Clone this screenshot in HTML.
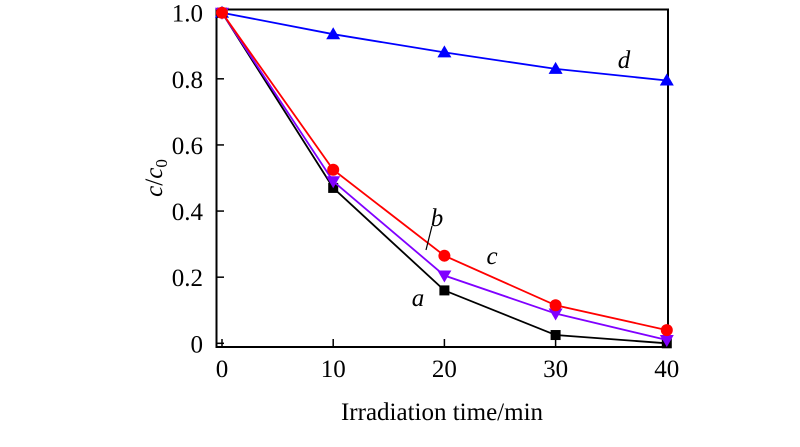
<!DOCTYPE html>
<html><head><meta charset="utf-8"><style>
body{margin:0;background:#fff}
svg text{font-family:"Liberation Serif",serif;fill:#000}
</style></head><body>
<svg id="chart" width="800" height="442" viewBox="0 0 800 442"></svg>
<script>
const categories=[0,10,20,30,40];
const seriesA=[1,0.47,0.16,0.025,0];
const seriesB=[1,0.49,0.205,0.09,0.01];
const seriesC=[1,0.525,0.265,0.115,0.04];
const seriesD=[1,0.935,0.88,0.83,0.795];
const xTicks=[0,10,20,30,40];
const yTicks=[0,0.2,0.4,0.6,0.8,1.0];
const yTickLabels=["0","0.2","0.4","0.6","0.8","1.0"];
const NS="http://www.w3.org/2000/svg";
const svg=document.getElementById('chart');
const X=v=>222+v*11.12;
const Y=v=>343.3-v*330.6;
function mk(t,a,p){const e=document.createElementNS(NS,t);for(const k in a)e.setAttribute(k,a[k]);(p||svg).appendChild(e);return e;}
const frame=mk('rect',{x:216.5,y:9.5,width:451.5,height:337.5,fill:'none',stroke:'#000','stroke-width':2});


xTicks.forEach(v=>{
 const t=mk('line',{x1:X(v),x2:X(v),y1:347,y2:339,stroke:'#000','stroke-width':1.5});
 
 
 const l=mk('text',{x:X(v),y:377,'font-size':25,'text-anchor':'middle'});l.textContent=v;
 
 
});
yTicks.forEach((v,i)=>{
 const t=mk('line',{x1:216.5,x2:224,y1:Y(v),y2:Y(v),stroke:'#000','stroke-width':1.5});
 
 
 const l=mk('text',{x:203,y:Y(v)+9,'font-size':25,'text-anchor':'end'});l.textContent=yTickLabels[i];
 
 
});
const xt=mk('text',{x:442,y:420,'font-size':25,'text-anchor':'middle'});xt.textContent='Irradiation time/min';


const yt=mk('text',{x:0,y:0,'font-size':25,'text-anchor':'middle',transform:'translate(162,178) rotate(-90)'});
yt.innerHTML='<tspan font-style="italic">c</tspan>/<tspan font-style="italic">c</tspan><tspan font-size="17" dy="5">0</tspan>';


function marker(type,x,y,c,g){
 let e;
 if(type==='sq')e=mk('rect',{x:x-5,y:y-5,width:10,height:10,fill:c},g);
 else if(type==='ci')e=mk('circle',{cx:x,cy:y,r:6,fill:c},g);
 else if(type==='up')e=mk('polygon',{points:`${x},${y-7} ${x-7},${y+5} ${x+7},${y+5}`,fill:c},g);
 else e=mk('polygon',{points:`${x},${y+7} ${x-7},${y-5} ${x+7},${y-5}`,fill:c},g);
 
 
}
function series(vals,color,type,name){
 const g=mk('g',{});
 
 
 mk('polyline',{points:vals.map((v,i)=>X(categories[i])+','+Y(v)).join(' '),fill:'none',stroke:color,'stroke-width':1.8},g);
 vals.forEach((v,i)=>marker(type,X(categories[i]),Y(v),color,g));
}
series(seriesD,'#0000ff','up','series-d');
series(seriesA,'#000000','sq','series-a');
series(seriesB,'#8000ff','dn','series-b');
series(seriesC,'#ff0000','ci','series-c');
const lead=mk('line',{x1:432,y1:226,x2:426,y2:250,stroke:'#000','stroke-width':1.2});


[['a',418,306],['b',437,226],['c',492,264],['d',624,68]].forEach(([t,x,y])=>{
 const l=mk('text',{x:x,y:y,'font-size':25,'font-style':'italic','text-anchor':'middle'});l.textContent=t;
 
 
});
</script>
</body></html>
